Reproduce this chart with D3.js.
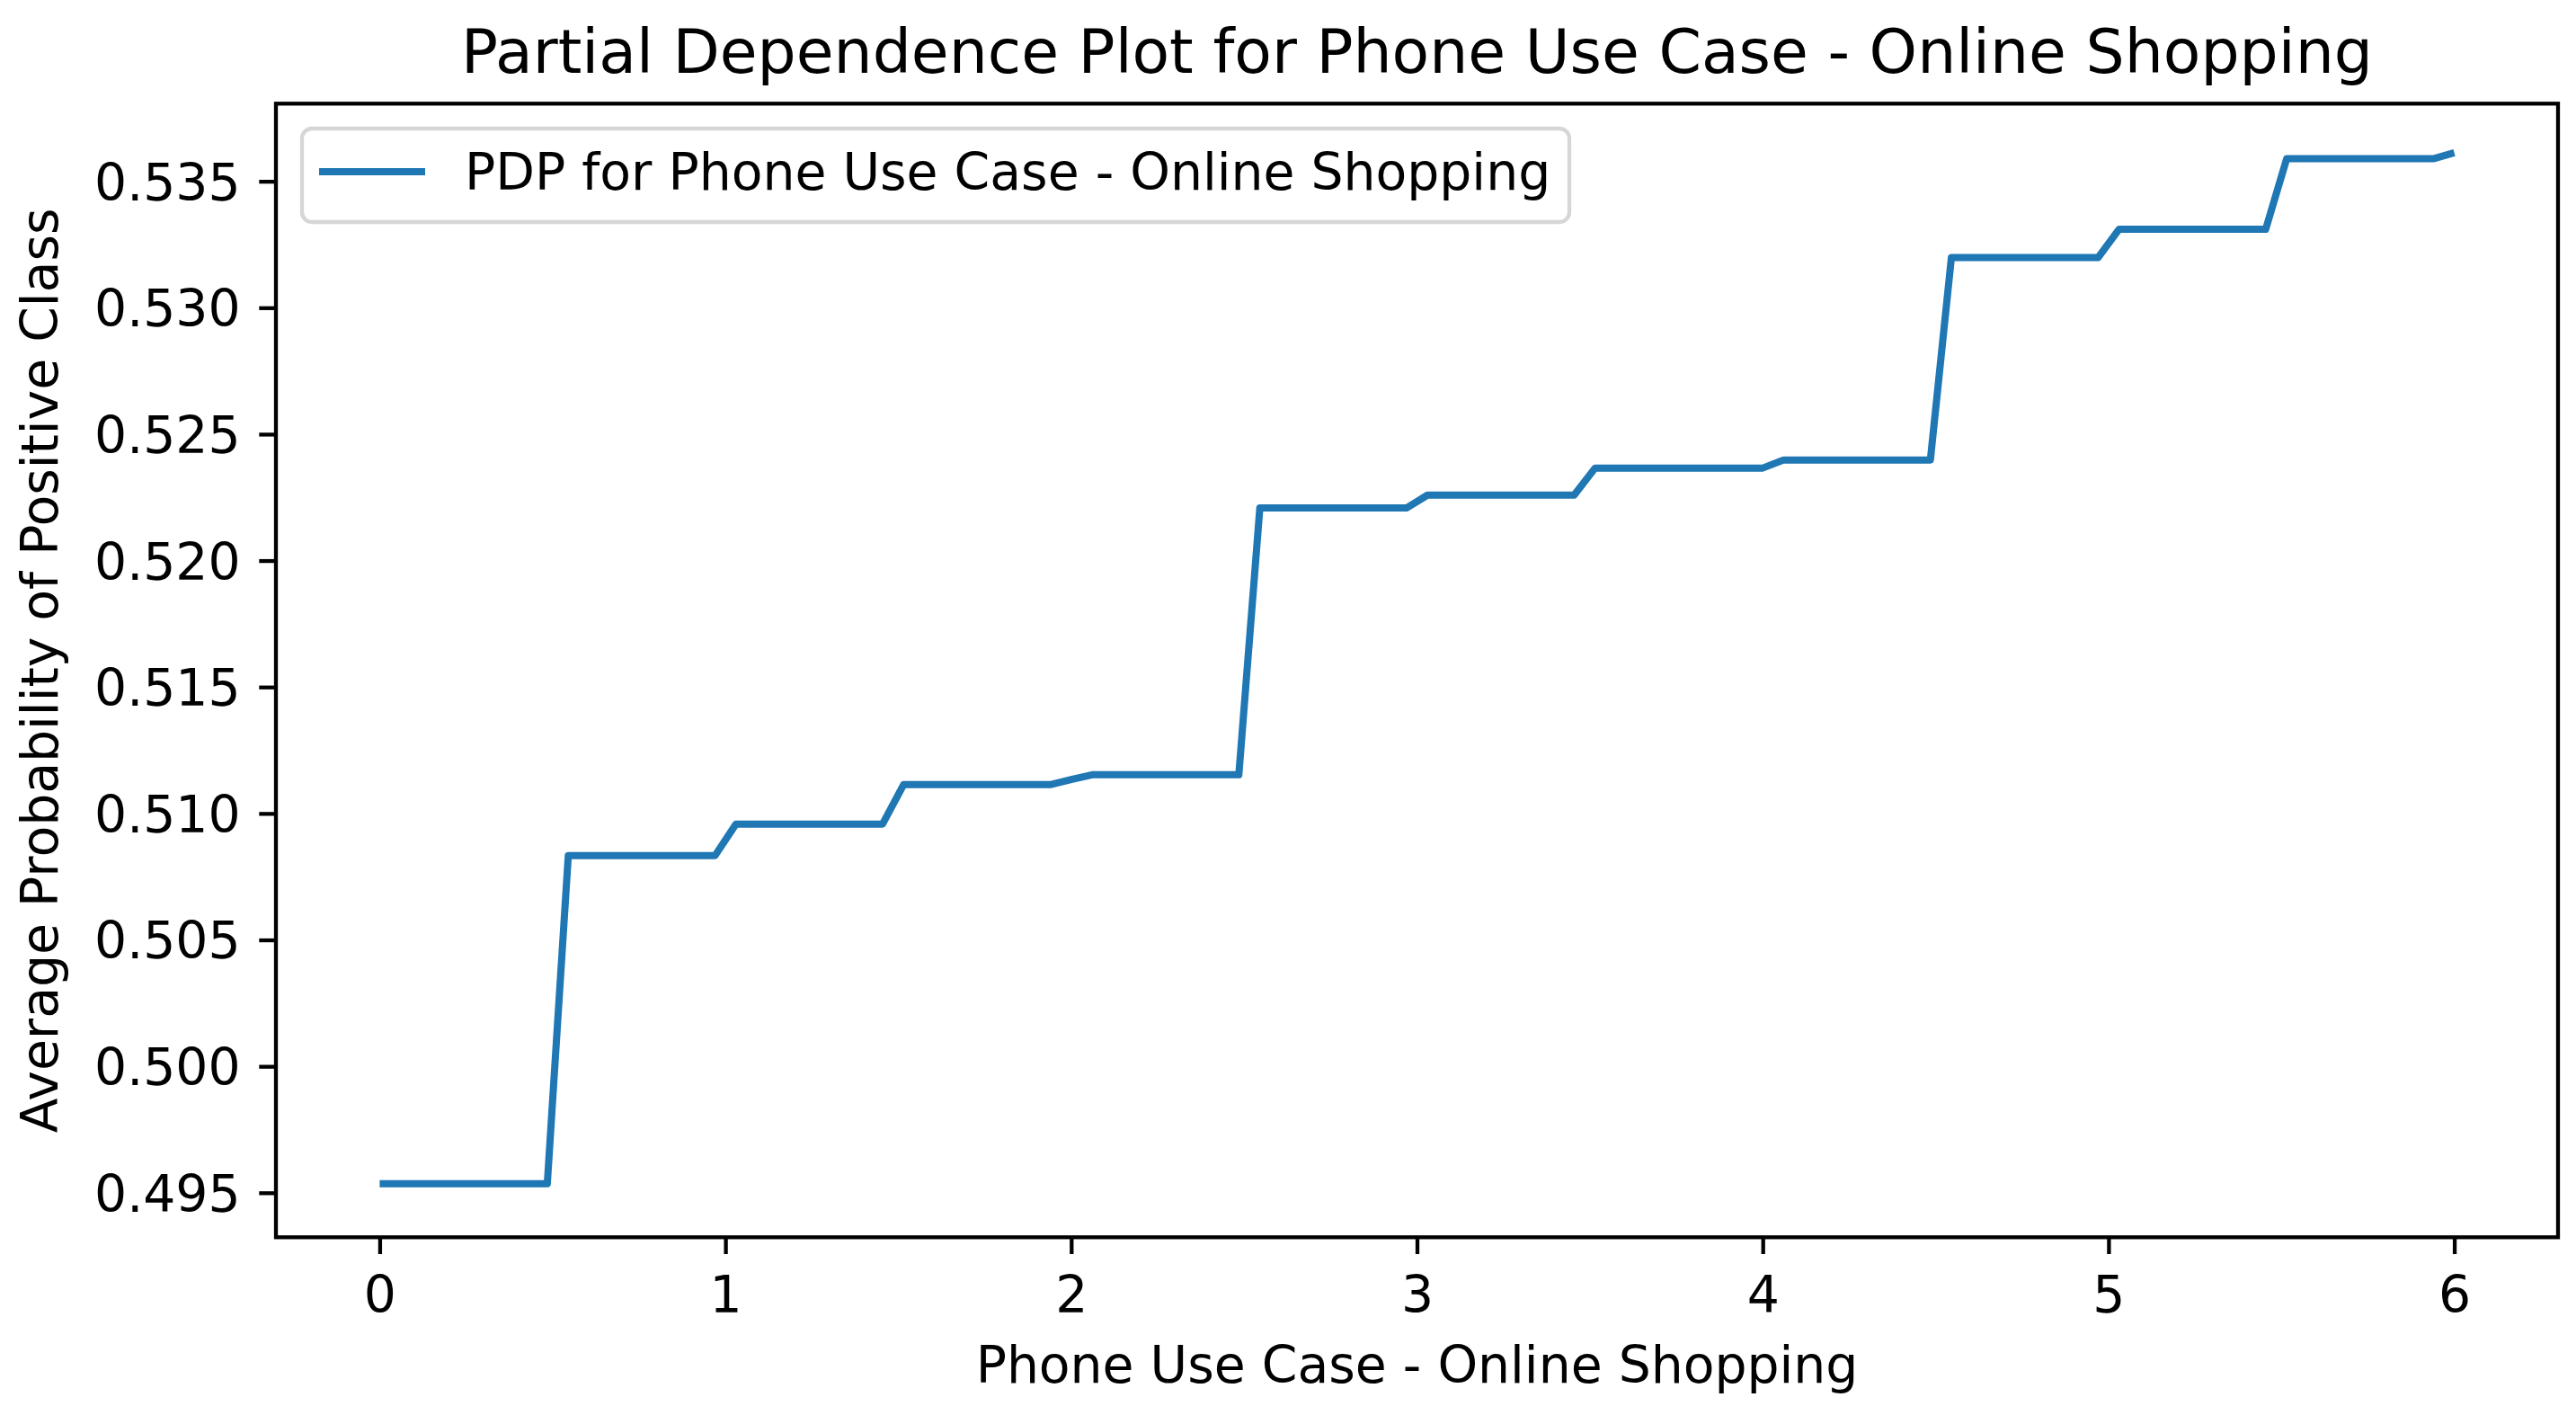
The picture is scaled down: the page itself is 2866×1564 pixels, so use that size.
<!DOCTYPE html>
<html>
<head>
<meta charset="utf-8">
<script src="https://cdn.jsdelivr.net/npm/d3@7/dist/d3.min.js"></script>
<style>
  html, body { margin: 0; padding: 0; background: #ffffff; }
  svg { display: block; }
  text { font-family: "DejaVu Sans", sans-serif; fill: #000; }
</style>
</head>
<body>
<svg id="chart" width="2866" height="1564"></svg>
<script>
// ---- Data (vertices of the PDP curve) ----
const featureValues = [0, 0.4848, 0.5455, 0.9697, 1.0303, 1.4545, 1.5152, 1.9394, 2.0, 2.0606,
  2.4848, 2.5455, 2.9697, 3.0303, 3.4545, 3.5152, 4.0, 4.0606, 4.4848, 4.5455,
  4.9697, 5.0303, 5.4545, 5.5152, 5.9394, 6.0];
const avgProbability = [0.49536, 0.49536, 0.50833, 0.50833, 0.50958, 0.50958, 0.51114, 0.51114, 0.51134, 0.51153,
  0.51153, 0.52208, 0.52208, 0.52259, 0.52259, 0.52366, 0.52366, 0.52398, 0.52398, 0.53198,
  0.53198, 0.53310, 0.53310, 0.53589, 0.53589, 0.53613];
const xTicks = [0, 1, 2, 3, 4, 5, 6];
const yTicks = [0.495, 0.500, 0.505, 0.510, 0.515, 0.520, 0.525, 0.530, 0.535];
const titleText = "Partial Dependence Plot for Phone Use Case - Online Shopping";
const xLabel = "Phone Use Case - Online Shopping";
const yLabel = "Average Probability of Positive Class";
const legendLabel = "PDP for Phone Use Case - Online Shopping";

// ---- Layout ----
const W = 2866, H = 1564;
const plot = { left: 307, right: 2846, top: 115.3, bottom: 1376.3 };
const fontSize = 56.8, titleSize = 68;
const lineColor = "#1f77b4";

const svg = d3.select("#chart");

const x = d3.scaleLinear().domain([-0.3, 6.3]).range([plot.left, plot.right]);
const y = d3.scaleLinear().domain([0.49324, 0.53807]).range([plot.bottom, plot.top]);

// Line
const pts = featureValues.map((v, i) => [v, avgProbability[i]]);
const line = d3.line().x(d => x(d[0])).y(d => y(d[1]));

svg.append("path")
  .datum(pts)
  .attr("d", line)
  .attr("fill", "none")
  .attr("stroke", lineColor)
  .attr("stroke-width", 8)
  .attr("stroke-linejoin", "round")
  .attr("stroke-linecap", "butt");

// Axes
const tickLen = 18.7, tickPad = 18.7, spineW = 4.3;

const xAxis = d3.axisBottom(x).tickValues(xTicks).tickFormat(d3.format("d"))
  .tickSizeInner(tickLen).tickSizeOuter(0).tickPadding(tickPad);
const gx = svg.append("g").attr("transform", `translate(0,${plot.bottom})`).call(xAxis);
gx.select(".domain").remove();
gx.selectAll(".tick line").attr("stroke", "#000").attr("stroke-width", spineW);
gx.selectAll(".tick text").attr("font-size", fontSize).attr("font-family", "DejaVu Sans")
  .attr("dy", null).attr("y", null)
  .attr("transform", `translate(0,${1460 - plot.bottom})`);

const yAxis = d3.axisLeft(y).tickValues(yTicks).tickFormat(d3.format(".3f"))
  .tickSizeInner(tickLen).tickSizeOuter(0).tickPadding(tickPad);
const gy = svg.append("g").attr("transform", `translate(${plot.left},0)`).call(yAxis);
gy.select(".domain").remove();
gy.selectAll(".tick line").attr("stroke", "#000").attr("stroke-width", spineW);
gy.selectAll(".tick text").attr("font-size", fontSize).attr("font-family", "DejaVu Sans")
  .attr("dy", "0.36em").attr("x", -(tickLen + tickPad + 2));

// Spines
svg.append("rect")
  .attr("x", plot.left).attr("y", plot.top)
  .attr("width", plot.right - plot.left).attr("height", plot.bottom - plot.top)
  .attr("fill", "none").attr("stroke", "#000").attr("stroke-width", spineW);

// Title
svg.append("text")
  .attr("x", (plot.left + plot.right) / 2).attr("y", 81)
  .attr("text-anchor", "middle").attr("font-size", titleSize)
  .text(titleText);

// X label
svg.append("text")
  .attr("x", (plot.left + plot.right) / 2).attr("y", 1538)
  .attr("text-anchor", "middle").attr("font-size", fontSize)
  .text(xLabel);

// Y label
svg.append("text")
  .attr("transform", `translate(64,${(plot.top + plot.bottom) / 2}) rotate(-90)`)
  .attr("text-anchor", "middle").attr("font-size", fontSize)
  .text(yLabel);

// Legend
const lg = svg.append("g");
lg.append("rect")
  .attr("x", 336).attr("y", 143).attr("width", 1746 - 336).attr("height", 104)
  .attr("rx", 11).attr("ry", 11)
  .attr("fill", "#ffffff").attr("fill-opacity", 0.8)
  .attr("stroke", "#d6d6d6").attr("stroke-width", 4.3);
lg.append("line")
  .attr("x1", 355).attr("x2", 473).attr("y1", 191).attr("y2", 191)
  .attr("stroke", lineColor).attr("stroke-width", 8);
lg.append("text")
  .attr("x", 517).attr("y", 191).attr("dy", "0.36em")
  .attr("font-size", fontSize)
  .text(legendLabel);
</script>
</body>
</html>
